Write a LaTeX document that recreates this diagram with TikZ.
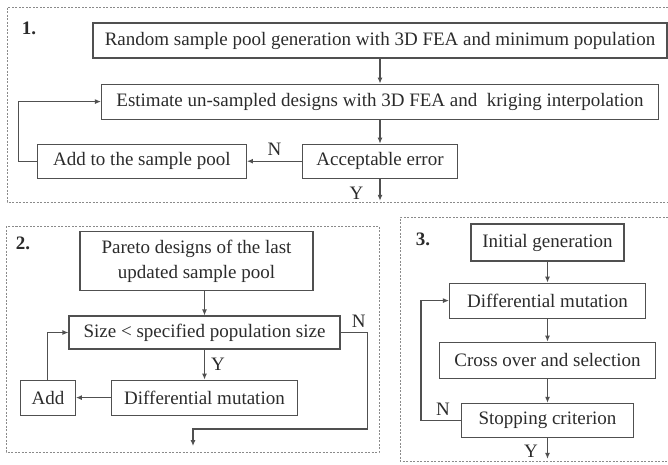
\documentclass[tikz,border=0pt]{standalone}
\usepackage{fontspec}
\setmainfont{Liberation Serif}
\usetikzlibrary{arrows.meta}
\usetikzlibrary{positioning}
\definecolor{linegray}{HTML}{505050}
\definecolor{textgray}{HTML}{2B2B2B}
\definecolor{dashgray}{HTML}{8A8A8A}
\tikzset{
  % process box
  stepbox/.style = {
    draw = linegray,
    line width = 1.1pt,
    rectangle,
    inner sep = 0,
    align = center,
    text = textgray,
    font = \fontsize{19}{25}\selectfont
  },
  % dashed frame round each part
  part/.style = {
    draw = dashgray,
    line width = 1pt,
    dash pattern = on 2pt off 1.5pt
  },
  % path style with an arrow tip at the end
  arr/.style = {
    draw = linegray,
    line width = 1.1pt,
    -{Latex[length=6pt,width=5pt]}
  },
  % Y / N and part numbers
  tag/.style = {
    text = textgray,
    inner sep = 1pt,
    font = \fontsize{19}{21}\selectfont
  },
  num/.style = {
    tag,
    font = \bfseries\fontsize{19}{21}\selectfont
  },
  node distance = 24pt
}

\begin{document}
\begin{tikzpicture}[x=1pt, y=-1pt]
  \useasboundingbox (0,0) rectangle (668,464);

  % frames
  \draw[part] (668,7) -- (7,7) -- (7,202) -- (668,202);
  \draw[part] (6,226) rectangle (379,452);
  \draw[part] (668,217) -- (400,217) -- (400,461) -- (668,461);

  % part 1
  \node[num] (one) at (29,28) {1.};
  \node[stepbox, minimum width=574pt, minimum height=35pt] (rand) at (380,40.5)
    {Random sample pool generation with 3D FEA and minimum population};
  \node[stepbox, minimum width=557pt, minimum height=35pt] (est) [below=25pt of rand]
    {Estimate un-sampled designs with 3D FEA and\ \ kriging interpolation};
  \node[stepbox, minimum width=155pt, minimum height=34pt] (acc) [below=of est] {Acceptable error};
  \node[stepbox, minimum width=209pt, minimum height=34pt] (pool) [left=55pt of acc] {Add to the sample pool};
  \coordinate [below=22pt of acc.south] (end1);

  \draw[arr] (rand) -- (est);
  \draw[arr] (est) -- (acc);
  \draw[arr] (acc) -- node[tag, above=4pt] {N} (pool);
  \draw[arr] (pool.west) -- ++(-18pt,0) |- (est.west);
  \draw[arr] (acc) -- (end1) node[tag, pos=0.64, left=15pt] {Y};

  % part 2
  \node[num] (two) at (23,243) {2.};
  \node[stepbox, minimum width=271pt, minimum height=33pt] (size) at (204.5,332.5)
    {Size < specified population size};
  \node[stepbox, minimum width=233pt, minimum height=59pt] (pareto) [above=of size, xshift=-8pt]
    {Pareto designs of the last\\updated sample pool};
  \node[stepbox, minimum width=186pt, minimum height=35pt] (mut) [below=30pt of size] {Differential mutation};
  \node[stepbox, minimum width=55pt, minimum height=35pt] (add) [left=35pt of mut] {Add};
  \coordinate (end2) at (193,446);

  \draw[arr] (pareto.south -| size.north) -- (size.north);
  \draw[arr] (size) -- node[tag, right=5pt] {Y} (mut);
  \draw[arr] (mut) -- (add);
  \draw[arr] (add) |- (size);
  \draw[arr] (size.east) -- node[tag, above=3pt, pos=0.67] {N} ++(27pt,0) -- ++(0,-96.5pt) -| (end2);

  % part 3
  \node[num] (three) at (423,239) {3.};
  \node[stepbox, minimum width=153pt, minimum height=37pt] (init) at (547.5,242.5) {Initial generation};
  \node[stepbox, minimum width=196pt, minimum height=35pt] (dmut) [below=21pt of init] {Differential mutation};
  \node[stepbox, minimum width=216pt, minimum height=36pt] (cross) [below=23pt of dmut] {Cross over and selection};
  \node[stepbox, minimum width=172pt, minimum height=34pt] (stop) [below=of cross] {Stopping criterion};
  \coordinate [below=21pt of stop.south] (end3);

  \draw[arr] (init) -- (dmut);
  \draw[arr] (dmut) -- (cross);
  \draw[arr] (cross) -- (stop);
  \draw[arr] (stop.west) -- node[tag, above=3pt, pos=0.45] {N} ++(-40pt,0) |- (dmut.west);
  \draw[arr] (stop) -- (end3) node[tag, pos=0.62, left=8pt] {Y};
\end{tikzpicture}
\end{document}
